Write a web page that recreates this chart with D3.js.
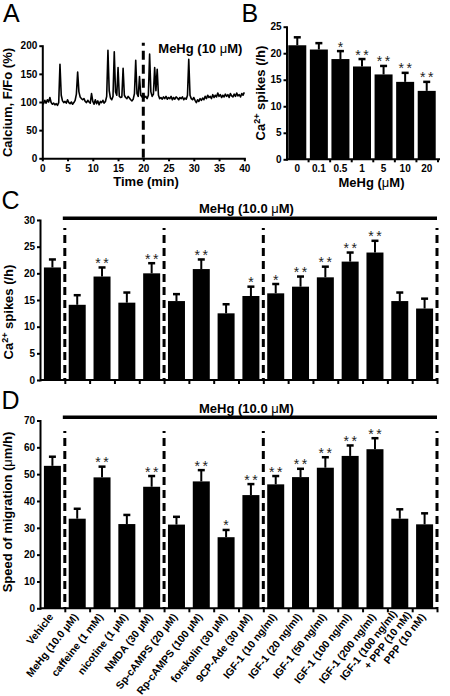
<!DOCTYPE html>
<html><head><meta charset="utf-8">
<script src="https://cdn.jsdelivr.net/npm/d3@7"></script>
<style>
body{margin:0;background:#fff}
svg{display:block}
</style></head><body>
<svg id="c" width="450" height="696"></svg>
<script>
// ---------------- DATA ----------------
// Panel A: calcium trace, sampled every 0.25 min from 0 to 40 min
const traceStep = 0.25;
const traceValues = [
100,97,103,98,104,100,108,99,96,98,95,97,94,99,167,112,102,99,101,98,
104,99,97,100,96,99,103,114,153,118,109,106,104,106,101,99,103,100,98,115,
101,96,104,97,102,95,101,99,103,98,101,110,192,120,107,104,110,189,118,112,
161,110,108,109,160,112,108,106,110,107,104,102,105,115,174,115,110,145,112,109,
114,108,110,106,112,185,118,110,114,161,120,158,112,106,108,105,109,106,110,105,
108,106,110,104,108,105,109,107,104,108,106,109,104,107,105,112,176,112,106,104,
108,103,99,104,101,106,103,107,104,110,106,112,108,110,106,113,108,112,109,116,
110,113,108,112,109,114,110,113,108,115,111,109,114,110,116,111,113,109,115,112,
117];
const aXTicks = [0,5,10,15,20,25,30,35,40];
const aYTicks = [0,50,100,150,200];
const aMarkTime = 20;

// Panel B: MeHg dose response
const doseLabels = ["0","0.1","0.5","1","5","10","20"];
const doseMeans  = [21.5,20.7,18.9,17.5,16.0,14.6,12.9];
const doseErrTop = [23.0,21.9,20.4,18.9,17.6,16.3,14.6];
const doseStars  = ["","","*","**","**","**","**"];
const bYTicks = [0,5,10,15,20,25];

// Panels C & D: treatments
const treatments = ["Vehicle","MeHg (10.0 μM)","caffeine (1 mM)","nicotine (1 μM)","NMDA (30 μM)",
  "Sp-cAMPS (20 μM)","Rp-cAMPS (100 μM)","forskolin (30 μM)","9CP-Ade (30 μM)",
  "IGF-1 (10 ng/ml)","IGF-1 (20 ng/ml)","IGF-1 (50 ng/ml)","IGF-1 (100 ng/ml)","IGF-1 (200 ng/ml)",
  "IGF-1 (100 ng/ml)|+ PPP (10 nM)","PPP (10 nM)"];
const groupBreaks = [1,5,9,16];
const spikeMeans  = [21.1,14.1,19.4,14.5,20.0,14.8,20.8,12.5,15.75,16.25,17.5,19.25,22.2,23.9,14.8,13.4];
const spikeErrTop = [22.6,15.9,21.1,16.4,21.9,16.1,22.6,14.2,17.5,18.0,19.4,21.25,23.9,26.1,16.4,15.25];
const spikeStars  = ["","","**","","**","","**","","*","*","**","**","**","**","",""];
const cYTicks = [0,5,10,15,20,25,30];
const migMeans  = [53.1,33.4,48.8,31.4,45.3,31.2,47.3,26.5,42.2,46.2,48.9,52.4,56.8,59.3,33.4,31.3];
const migErrTop = [56.5,37.1,52.8,34.8,49.3,34.1,51.5,29.2,46.3,49.3,52.0,56.3,60.7,63.4,36.9,35.4];
const migStars  = ["","","**","","**","","**","*","**","**","**","**","**","**","",""];
const dYTicks = [0,10,20,30,40,50,60,70];

// ---------------- DRAW ----------------
const FONT = '"Liberation Sans", Arial, Helvetica, sans-serif';
const svg = d3.select("#c").attr("font-family", FONT);

function styleAxis(g, fs) {
  g.select(".domain").attr("stroke","#000").attr("stroke-width",2).attr("stroke-linecap","square");
  g.selectAll(".tick line").attr("stroke","#000").attr("stroke-width",2);
  g.selectAll(".tick text").attr("font-family",FONT).attr("font-weight","bold")
    .attr("font-size",fs||10).attr("fill","#000");
}
function panelLetter(t,x,y){
  svg.append("text").attr("x",x).attr("y",y).attr("font-size",25).attr("font-family",FONT).text(t);
}
function boldText(t,x,y,anchor,size){
  return svg.append("text").attr("x",x).attr("y",y).attr("text-anchor",anchor||"middle")
    .attr("font-weight","bold").attr("font-size",size||13).text(t);
}
function yLabel(x,cy,parts){
  const t = svg.append("text").attr("transform",`translate(${x},${cy}) rotate(-90)`)
    .attr("text-anchor","middle").attr("font-weight","bold").attr("font-size",13);
  parts(t);
}
function caLabel(t){
  t.append("tspan").text("Ca");
  t.append("tspan").attr("font-size",9).attr("dy",-5).text("2+");
  t.append("tspan").attr("dy",5).text(" spikes (/h)");
}
function stars(g, x, y, s){
  const n = s.length;
  const sg = g.append("g").attr("opacity",0.999);
  for (let i=0;i<n;i++){
    sg.append("text").attr("x", x + (i-(n-1)/2)*8).attr("y", y).attr("text-anchor","middle")
      .attr("font-size",14).attr("fill","#222").attr("font-family",FONT).text("*");
  }
}
function bars(g, xs, ys, cats, means, errs, st, bw){
  cats.forEach((c,i)=>{
    const cx = xs(c) + xs.bandwidth()/2;
    g.append("rect").attr("x",cx-bw/2).attr("width",bw)
      .attr("y",ys(means[i])).attr("height",ys(0)-ys(means[i])).attr("fill","#000");
    g.append("line").attr("x1",cx).attr("x2",cx).attr("y1",ys(means[i])).attr("y2",ys(errs[i]))
      .attr("stroke","#000").attr("stroke-width",2);
    g.append("line").attr("x1",cx-3.5).attr("x2",cx+3.5).attr("y1",ys(errs[i])).attr("y2",ys(errs[i]))
      .attr("stroke","#000").attr("stroke-width",2.5);
    if (st[i]) stars(g, cx, ys(errs[i]) + 0.5, st[i]);
  });
}

// ===== Panel A =====
panelLetter("A", 3, 22);
const ax = d3.scaleLinear().domain([0,40]).range([42.3,244.3]);
const ay = d3.scaleLinear().domain([0,200]).range([158.3,45.7]);
const gA = svg.append("g");
styleAxis(gA.append("g").attr("transform",`translate(${ax(0)},0)`)
  .call(d3.axisLeft(ay).tickValues(aYTicks).tickSize(3).tickSizeOuter(0).tickPadding(2)));
styleAxis(gA.append("g").attr("transform",`translate(0,${ay(0)})`)
  .call(d3.axisBottom(ax).tickValues(aXTicks).tickSize(3).tickSizeOuter(0).tickPadding(4)));
gA.append("path").datum(traceValues)
  .attr("d", d3.line().x((d,i)=>ax(i*traceStep)).y(d=>ay(d)))
  .attr("fill","none").attr("stroke","#000").attr("stroke-width",1.6).attr("stroke-linejoin","round");
gA.append("line").attr("x1",ax(aMarkTime)).attr("x2",ax(aMarkTime)).attr("y1",ay(200)-3).attr("y2",ay(0))
  .attr("stroke","#000").attr("stroke-width",3).attr("stroke-dasharray","9,5").attr("stroke-dashoffset",6);
const mA = boldText("", 158.3, 53, "start", 13);
mA.append("tspan").text("MeHg (10 ");
mA.append("tspan").text("μ").attr("font-weight","normal");
mA.append("tspan").text("M)");
yLabel(12, 102.5, t=>t.text("Calcium, F/Fo (%)"));
boldText("Time (min)", 146, 186, "middle", 13);

// ===== Panel B =====
panelLetter("B", 241.5, 22);
const bx = d3.scaleBand().domain(doseLabels).range([286.5,437.5]);
const by = d3.scaleLinear().domain([0,25]).range([159.3,26.7]);
const gB = svg.append("g");
bars(gB, bx, by, doseLabels, doseMeans, doseErrTop, doseStars, 18);
styleAxis(gB.append("g").attr("transform",`translate(286.5,0)`)
  .call(d3.axisLeft(by).tickValues(bYTicks).tickSize(3).tickSizeOuter(0).tickPadding(2)));
const bxl = d3.scaleLinear().domain([0,doseLabels.length]).range([286.5,437.5]);
const gBx = gB.append("g").attr("transform",`translate(0,${by(0)})`)
  .call(d3.axisBottom(bxl).tickValues(d3.range(1,doseLabels.length+1)).tickSize(3).tickFormat(""));
gBx.select(".domain").remove();
styleAxis(gBx);
gB.append("line").attr("x1",286.5).attr("x2",440).attr("y1",by(0)).attr("y2",by(0)).attr("stroke","#000").attr("stroke-width",2);
const gBl = gB.append("g").attr("transform",`translate(0,${by(0)})`)
  .call(d3.axisBottom(bx).tickSize(0).tickPadding(6));
gBl.select(".domain").remove();
styleAxis(gBl, 10);
yLabel(265, 93, caLabel);
const mB = boldText("", 371.5, 186.5, "middle", 13);
mB.append("tspan").text("MeHg (");
mB.append("tspan").text("μ").attr("font-weight","normal");
mB.append("tspan").text("M)");

// ===== Panels C & D (shared x) =====
const cx = d3.scaleBand().domain(treatments).range([40,437]);
const cxl = d3.scaleLinear().domain([0,treatments.length]).range([40,437]);

function treatPanel(ys, yTicks, means, errs, st, lineY, textY, dashTop){
  const g = svg.append("g");
  bars(g, cx, ys, treatments, means, errs, st, 17);
  styleAxis(g.append("g").attr("transform",`translate(40,0)`)
    .call(d3.axisLeft(ys).tickValues(yTicks).tickSize(3).tickSizeOuter(0).tickPadding(2)));
  const gx = g.append("g").attr("transform",`translate(0,${ys(0)})`)
    .call(d3.axisBottom(cxl).tickValues(d3.range(1,treatments.length+1)).tickSize(4).tickFormat(""));
  gx.select(".domain").remove();
  styleAxis(gx);
  g.append("line").attr("x1",40).attr("x2",438).attr("y1",ys(0)).attr("y2",ys(0)).attr("stroke","#000").attr("stroke-width",2);
  groupBreaks.forEach(b=>{
    g.append("line").attr("x1",cxl(b)).attr("x2",cxl(b)).attr("y1",dashTop).attr("y2",ys(0))
      .attr("stroke","#000").attr("stroke-width",3).attr("stroke-dasharray","8,5").attr("stroke-dashoffset",6);
  });
  g.append("line").attr("x1",cxl(groupBreaks[0])-2).attr("x2",cxl(groupBreaks[groupBreaks.length-1]))
    .attr("y1",lineY).attr("y2",lineY).attr("stroke","#000").attr("stroke-width",3.5);
  const m = boldText("", 199, textY, "start", 13);
  m.append("tspan").text("MeHg (10.0 ");
  m.append("tspan").text("μ").attr("font-weight","normal");
  m.append("tspan").text("M)");
  return g;
}

// Panel C
panelLetter("C", 1.5, 208.5);
const cy = d3.scaleLinear().domain([0,30]).range([380,220]);
treatPanel(cy, cYTicks, spikeMeans, spikeErrTop, spikeStars, 218.3, 212.5, 228);
yLabel(13, 312, caLabel);

// Panel D
panelLetter("D", 1.5, 408.5);
const dy = d3.scaleLinear().domain([0,70]).range([608.3,420.5]);
const gD = treatPanel(dy, dYTicks, migMeans, migErrTop, migStars, 417.3, 412.5, 431);
const dyl = svg.append("text").attr("transform",`translate(12,512) rotate(-90)`)
  .attr("text-anchor","middle").attr("font-weight","bold").attr("font-size",13);
dyl.append("tspan").text("Speed of migration (");
dyl.append("tspan").text("μ").attr("font-weight","normal");
dyl.append("tspan").text("m/h)");

// rotated x labels
treatments.forEach((t,i)=>{
  const x = cx(t) + cx.bandwidth()/2;
  const lines = t.split("|");
  const g = gD.append("g").attr("transform",`translate(${x+1.5},${617}) rotate(-52)`);
  lines.forEach((ln,j)=>{
    const two = lines.length > 1;
    g.append("text").attr("x", two ? (j ? 8 : 0) : 0).attr("y", two ? (j ? 7 : -5) : 0)
      .attr("text-anchor","end").attr("font-weight","bold").attr("font-size",10.5).text(ln);
  });
});
</script>
</body></html>
